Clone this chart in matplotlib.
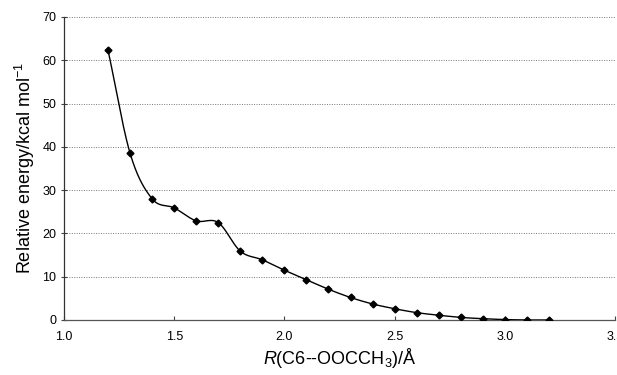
import numpy as np
import matplotlib
matplotlib.use('Agg')
import matplotlib.pyplot as plt

plt.rcParams['font.family'] = ['Liberation Sans', 'DejaVu Sans']
plt.rcParams['mathtext.fontset'] = 'custom'
plt.rcParams['mathtext.rm'] = 'Liberation Sans'
plt.rcParams['mathtext.it'] = 'Liberation Sans:italic'

# Data
distance = [1.2, 1.3, 1.4, 1.5, 1.6, 1.7, 1.8, 1.9, 2.0, 2.1, 2.2,
            2.3, 2.4, 2.5, 2.6, 2.7, 2.8, 2.9, 3.0, 3.1, 3.2]
energy = [62.3, 38.5, 28.0, 25.9, 22.9, 22.5, 15.9, 13.9, 11.5, 9.3, 7.1,
          5.2, 3.7, 2.6, 1.7, 1.1, 0.6, 0.3, 0.1, 0.0, 0.0]
xticks = [1.0, 1.5, 2.0, 2.5, 3.0, 3.5]
yticks = [0, 10, 20, 30, 40, 50, 60, 70]


def smooth(x, y, n=30):
    # Catmull-Rom style smoothing like a spreadsheet "smoothed line"
    x = np.asarray(x, float)
    y = np.asarray(y, float)
    px = np.concatenate([[2 * x[0] - x[1]], x, [2 * x[-1] - x[-2]]])
    py = np.concatenate([[2 * y[0] - y[1]], y, [2 * y[-1] - y[-2]]])
    xs, ys = [], []
    t = np.linspace(0, 1, n, endpoint=False)
    for i in range(1, len(px) - 2):
        for p, out in ((px, xs), (py, ys)):
            p0, p1, p2, p3 = p[i - 1], p[i], p[i + 1], p[i + 2]
            out.extend(0.5 * (2 * p1 + (-p0 + p2) * t
                              + (2 * p0 - 5 * p1 + 4 * p2 - p3) * t ** 2
                              + (-p0 + 3 * p1 - 3 * p2 + p3) * t ** 3))
    xs.append(x[-1])
    ys.append(y[-1])
    return np.array(xs), np.array(ys)


fig = plt.figure(figsize=(6.17, 3.75), dpi=100)
ax = fig.add_axes([0.1037, 0.1467, 0.8931, 0.808])

sx, sy = smooth(distance, energy)
ax.plot(sx, sy, color='black', linewidth=1.0, zorder=3)
ax.plot(distance, energy, linestyle='none', marker='D', markersize=3.5,
        color='black', zorder=4)

ax.set_xlim(1.0, 3.5)
ax.set_ylim(0, 70)
ax.set_xticks(xticks)
ax.set_xticklabels([f'{v:.1f}' for v in xticks], fontsize=9)
ax.set_yticks(yticks)
ax.set_yticklabels([str(v) for v in yticks], fontsize=9)
ax.tick_params(axis='x', direction='in', length=3, width=0.8, color='#444444', pad=8)
ax.tick_params(axis='y', direction='inout', length=5, width=0.8, color='#444444', pad=3)

for v in yticks[1:]:
    ax.axhline(v, color='#777777', linewidth=0.7, linestyle=(0, (1, 1.5)), zorder=1)

for s in ['top', 'right']:
    ax.spines[s].set_visible(False)
ax.spines['left'].set_color('#333333')
ax.spines['left'].set_linewidth(0.9)
ax.spines['bottom'].set_color('#555555')
ax.spines['bottom'].set_linewidth(0.9)

ax.set_ylabel('Relative energy/kcal mol$^{-1}$', fontsize=13, labelpad=4)
ax.set_xlabel('$\\mathit{R}$(C6--OOCCH$_3$)/Å', fontsize=13, labelpad=2)

fig.savefig('out.png', dpi=100, facecolor='white')
